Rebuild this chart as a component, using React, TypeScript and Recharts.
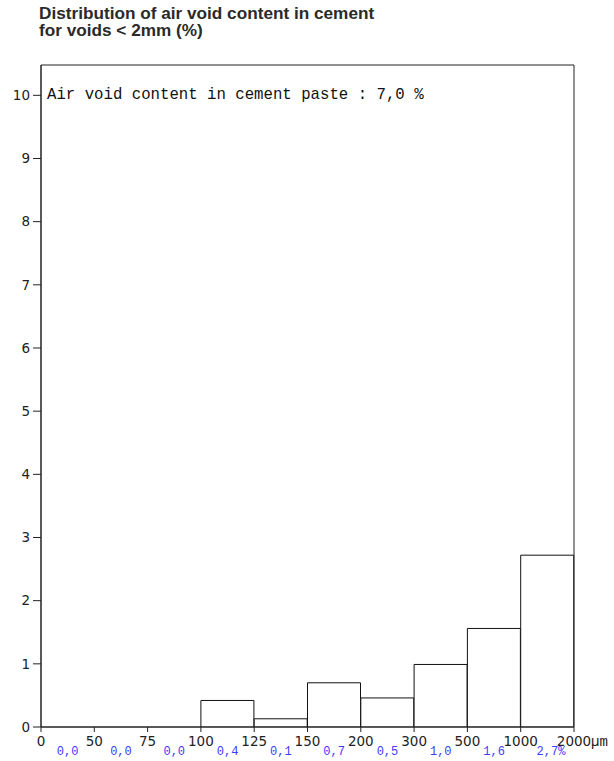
import React from 'react';
import { BarChart, Bar, XAxis, YAxis, ReferenceArea } from 'recharts';

const binNames = ['0-50', '50-75', '75-100', '100-125', '125-150', '150-200', '200-300', '300-500', '500-1000', '1000-2000'];
const binValues = [0, 0, 0, 0.42, 0.13, 0.7, 0.46, 0.99, 1.56, 2.72];
const valueLabels = ['0,0', '0,0', '0,0', '0,4', '0,1', '0,7', '0,5', '1,0', '1,6', '2,7'];
const edgeLabels = ['0', '50', '75', '100', '125', '150', '200', '300', '500', '1000', '2000'];
const yTicks = [0, 1, 2, 3, 4, 5, 6, 7, 8, 9, 10];
const yMax = 10.48;
const unitLabel = 'µm';
const titleLines = ['Distribution of air void content in cement', 'for voids < 2mm (%)'];
const noteText = 'Air void content in cement paste : 7,0 %';

const data = binNames.map((name, i) => ({ bin: name, value: binValues[i], label: valueLabels[i] }));

const TICK_FONT = '"DejaVu Sans", Verdana, sans-serif';
const MONO_FONT = '"Liberation Mono", "Courier New", monospace';
const AXIS_COLOR = '#222';
const TICK_SIZE = 13.5;

const BinTick = (props: any) => {
  const { x, y, payload, index } = props;
  const half = payload && typeof payload.offset === 'number' && payload.offset > 0 ? payload.offset : 26.65;
  const isLast = index === binNames.length - 1;
  const left = x - half;
  const right = x + half;
  return (
    <g>
      <line x1={left} y1={y} x2={left} y2={y + 5} stroke={AXIS_COLOR} />
      <text x={left} y={y} dy={18.5} textAnchor="middle" fontFamily={TICK_FONT} fontSize={TICK_SIZE} fill={AXIS_COLOR}>
        {edgeLabels[index]}
      </text>
      {isLast && (
        <g>
          <line x1={right} y1={y} x2={right} y2={y + 5} stroke={AXIS_COLOR} />
          <text x={right} y={y} dy={18.5} textAnchor="middle" fontFamily={TICK_FONT} fontSize={TICK_SIZE} fill={AXIS_COLOR}>
            {edgeLabels[index + 1]}
          </text>
          <text x={right + 17} y={y} dy={18.5} textAnchor="start" fontFamily={MONO_FONT} fontSize={14} fill={AXIS_COLOR}>
            {unitLabel}
          </text>
        </g>
      )}
      <text x={x - 10.8} y={y} dy={27.5} textAnchor="start" fontFamily={MONO_FONT} fontSize={12} fill="#3c3cff">
        {valueLabels[index] + (isLast ? '%' : '')}
      </text>
    </g>
  );
};

export default function App() {
  return (
    <div style={{ position: 'absolute', left: 0, top: 0, width: 614, height: 761, background: '#fff' }}>
      <div
        style={{
          position: 'absolute',
          left: 39,
          top: 5,
          fontFamily: '"Liberation Sans", Arial, sans-serif',
          fontWeight: 'bold',
          fontSize: 17.2,
          lineHeight: '17px',
          color: '#2a2a2a',
          whiteSpace: 'pre',
        }}
      >
        {titleLines.map((t) => (
          <div key={t}>{t}</div>
        ))}
      </div>
      <BarChart
        width={614}
        height={761}
        data={data}
        margin={{ top: 65, right: 40, bottom: 0, left: 0 }}
        barCategoryGap={0}
        barGap={0}
      >
        <XAxis
          xAxisId="bins"
          dataKey="bin"
          type="category"
          height={34}
          stroke={AXIS_COLOR}
          tickLine={false}
          tickSize={0}
          tickMargin={0}
          tick={<BinTick />}
          interval={0}
        />
        <YAxis
          yAxisId="left"
          type="number"
          domain={[0, yMax]}
          ticks={yTicks}
          allowDataOverflow
          width={41}
          stroke={AXIS_COLOR}
          tickSize={8}
          tickMargin={3}
          tick={{ fontFamily: TICK_FONT, fontSize: TICK_SIZE, fill: AXIS_COLOR }}
          interval={0}
        />
        <ReferenceArea
          xAxisId="bins"
          yAxisId="left"
          x1={binNames[0]}
          x2={binNames[binNames.length - 1]}
          y1={0}
          y2={yMax}
          fill="none"
          fillOpacity={0}
          stroke={AXIS_COLOR}
          strokeWidth={1}
          ifOverflow="extendDomain"
        />
        <Bar
          xAxisId="bins"
          yAxisId="left"
          dataKey="value"
          fill="#fff"
          stroke="#111"
          strokeWidth={1}
          isAnimationActive={false}
        />
      </BarChart>
      <div
        style={{
          position: 'absolute',
          left: 47,
          top: 87,
          fontFamily: MONO_FONT,
          fontSize: 15.7,
          lineHeight: '16px',
          color: '#111',
          whiteSpace: 'pre',
        }}
      >
        {noteText}
      </div>
    </div>
  );
}
